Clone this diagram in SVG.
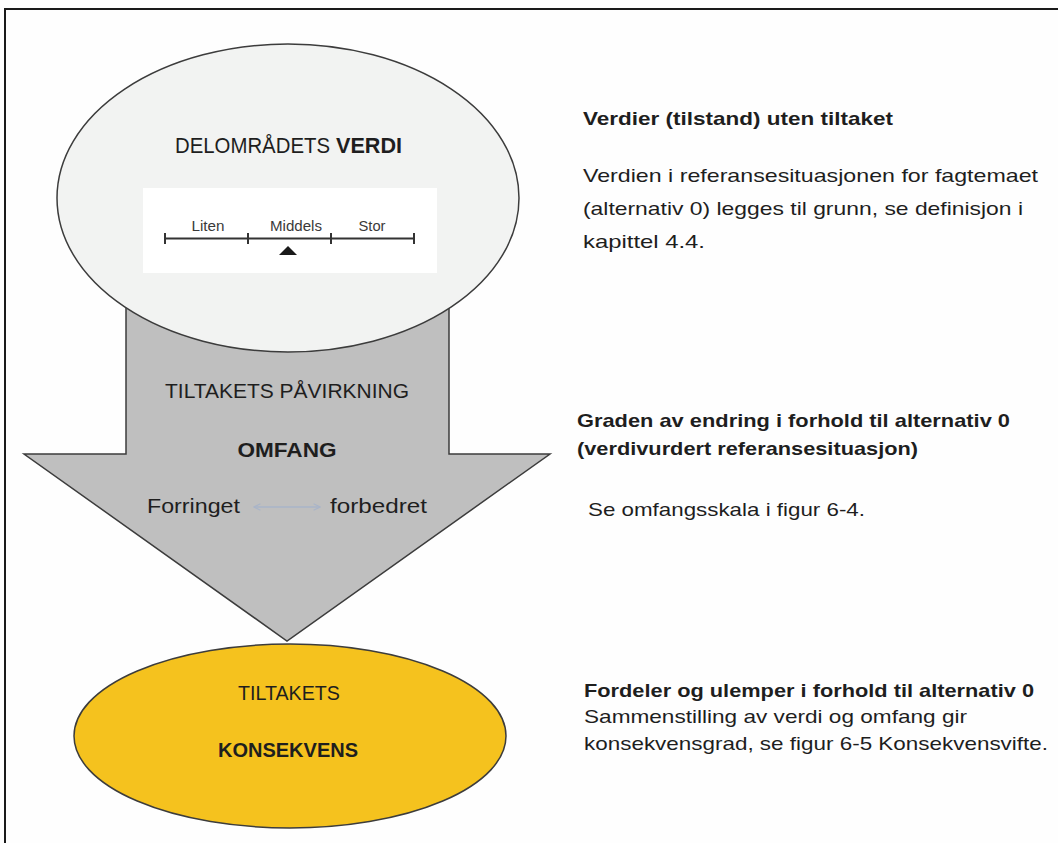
<svg xmlns="http://www.w3.org/2000/svg" width="1058" height="843" viewBox="0 0 1058 843">
<style>
text{font-family:"Liberation Sans",Arial,sans-serif;fill:#1e1e1e}
.b{font-weight:bold}
.scale{font-size:14px;fill:#3a3a3a}
.body{font-size:19px}
.mid{text-anchor:middle}
.node{stroke:#3c3c3c;stroke-width:1.5}
</style>
<defs>
<marker id="chev" viewBox="0 0 10 10" refX="9" refY="5" markerWidth="8" markerHeight="8" orient="auto-start-reverse" markerUnits="userSpaceOnUse">
<path d="M1,1 L9,5 L1,9" fill="none" stroke="#a9b4c8" stroke-width="1.5"/>
</marker>
</defs>
<rect x="0" y="0" width="1058" height="843" fill="#fefefe"/>
<path d="M5,843 L5,9 L1058,9" fill="none" stroke="#1a1a1a" stroke-width="2"/>

<g id="paavirkning">
<path class="node" d="M126,300 L449,300 L449,454 L550,454 L287,641 L24,454 L126,454 Z" fill="#bfbfbf" stroke="#505050"/>
<text class="mid" x="287" y="398" font-size="21" textLength="244" lengthAdjust="spacingAndGlyphs">TILTAKETS PÅVIRKNING</text>
<text class="mid b" x="287" y="457" font-size="21" textLength="99" lengthAdjust="spacingAndGlyphs">OMFANG</text>
<text x="147" y="513" font-size="21" textLength="93" lengthAdjust="spacingAndGlyphs">Forringet</text>
<text x="330" y="513" font-size="21" textLength="97" lengthAdjust="spacingAndGlyphs">forbedret</text>
</g>

<g id="connectors">
<line x1="254" y1="507" x2="320" y2="507" stroke="#a9b4c8" stroke-width="1.5" marker-start="url(#chev)" marker-end="url(#chev)"/>
</g>

<g id="verdi">
<ellipse class="node" cx="288" cy="198" rx="231" ry="154" fill="#f2f3f2"/>
<text x="175" y="153" font-size="22" textLength="155" lengthAdjust="spacingAndGlyphs">DELOMRÅDETS</text>
<text class="b" x="336" y="153" font-size="22" textLength="66" lengthAdjust="spacingAndGlyphs">VERDI</text>
<rect x="143" y="188" width="294" height="85" fill="#ffffff"/>
<g stroke="#333" stroke-width="2" fill="none">
<line x1="165" y1="238.5" x2="414" y2="238.5"/>
<line x1="165" y1="233" x2="165" y2="244"/>
<line x1="248" y1="233" x2="248" y2="244"/>
<line x1="331" y1="233" x2="331" y2="244"/>
<line x1="414" y1="233" x2="414" y2="244"/>
</g>
<text class="scale mid" x="208" y="231" textLength="33" lengthAdjust="spacingAndGlyphs">Liten</text>
<text class="scale mid" x="296" y="231" textLength="52" lengthAdjust="spacingAndGlyphs">Middels</text>
<text class="scale mid" x="372" y="231" textLength="27" lengthAdjust="spacingAndGlyphs">Stor</text>
<path d="M288,246 L297,255 L279,255 Z" fill="#1a1a1a"/>
</g>

<g id="konsekvens">
<ellipse class="node" cx="290" cy="736" rx="216" ry="92" fill="#f5c21e" stroke="#333"/>
<text class="mid" x="289" y="700" font-size="21" textLength="102" lengthAdjust="spacingAndGlyphs">TILTAKETS</text>
<text class="mid b" x="288" y="757" font-size="21" textLength="140" lengthAdjust="spacingAndGlyphs">KONSEKVENS</text>
</g>

<g id="tekst-verdi">
<text class="body b" x="583" y="125" textLength="310" lengthAdjust="spacingAndGlyphs">Verdier (tilstand) uten tiltaket</text>
<text class="body" x="583" y="182" textLength="455" lengthAdjust="spacingAndGlyphs">Verdien i referansesituasjonen for fagtemaet</text>
<text class="body" x="583" y="215" textLength="440" lengthAdjust="spacingAndGlyphs">(alternativ 0) legges til grunn, se definisjon i</text>
<text class="body" x="583" y="248" textLength="122" lengthAdjust="spacingAndGlyphs">kapittel 4.4.</text>
</g>

<g id="tekst-omfang">
<text class="body b" x="577" y="427" textLength="433" lengthAdjust="spacingAndGlyphs">Graden av endring i forhold til alternativ 0</text>
<text class="body b" x="577" y="455" textLength="341" lengthAdjust="spacingAndGlyphs">(verdivurdert referansesituasjon)</text>
<text class="body" x="588" y="516" textLength="277" lengthAdjust="spacingAndGlyphs">Se omfangsskala i figur 6-4.</text>
</g>

<g id="tekst-konsekvens">
<text class="body b" x="584" y="697" textLength="450" lengthAdjust="spacingAndGlyphs">Fordeler og ulemper i forhold til alternativ 0</text>
<text class="body" x="584" y="723" textLength="383" lengthAdjust="spacingAndGlyphs">Sammenstilling av verdi og omfang gir</text>
<text class="body" x="584" y="750" textLength="464" lengthAdjust="spacingAndGlyphs">konsekvensgrad, se figur 6-5 Konsekvensvifte.</text>
</g>
</svg>
